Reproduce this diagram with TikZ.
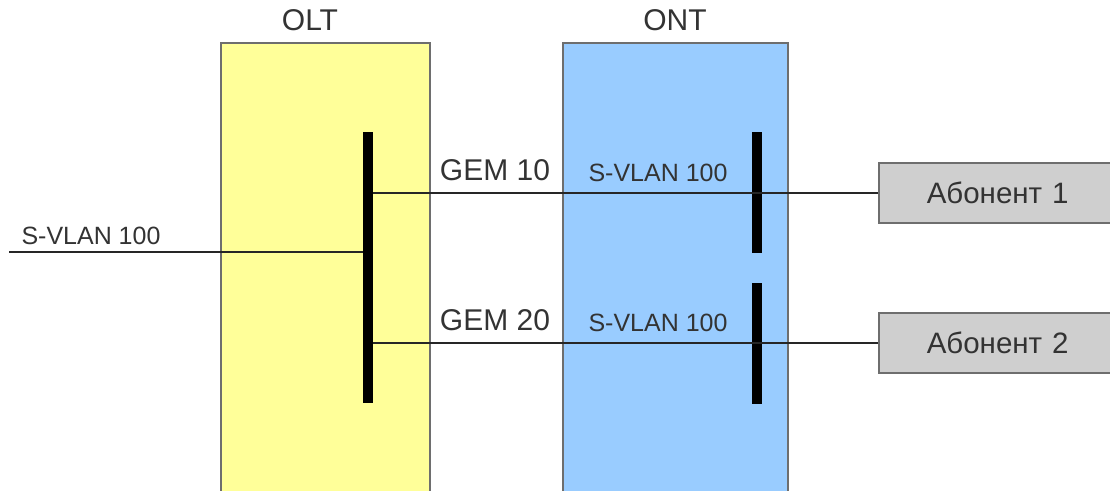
\documentclass[tikz,border=0pt]{standalone}
\usepackage{fontspec}
\setmainfont{Liberation Sans}
\definecolor{oltyellow}{HTML}{FFFF99}
\definecolor{ontblue}{HTML}{99CCFF}
\definecolor{abgray}{HTML}{CFCFCF}
\definecolor{txt}{HTML}{333333}
\definecolor{edge}{HTML}{6E6E6E}
\begin{document}
\begin{tikzpicture}[x=1pt,y=-1pt,
  dev/.style={draw=edge,line width=1.5pt},
  bar/.style={fill=black,draw=none},
  wire/.style={line width=2pt,draw=black!85},
  lbl/.style={text=txt,font=\fontsize{30}{34}\selectfont,inner sep=0pt},
  slbl/.style={text=txt,font=\fontsize{25}{29}\selectfont,inner sep=0pt},
  abon/.style={draw=edge,line width=1.5pt,fill=abgray,minimum width=240pt,minimum height=60pt,anchor=west,text=txt,font=\fontsize{29.5}{33}\selectfont,inner sep=0pt}]
\useasboundingbox (0,0) rectangle (1110,490);
% devices
\fill[oltyellow] (221,43) rectangle (430,495);
\draw[dev] (221,495) -- (221,43) -- (430,43) -- (430,495);
\fill[ontblue] (563,43) rectangle (788,495);
\draw[dev] (563,495) -- (563,43) -- (788,43) -- (788,495);
\node[lbl] (olt) at (310,20) {OLT};
\node[lbl] (ont) at (675,20) {ONT};
% bars
\node[bar,minimum width=10pt,minimum height=271pt,inner sep=0pt] (b0) at (368,267.5) {};
\node[bar,minimum width=10pt,minimum height=121pt,inner sep=0pt] (b1) at (757,192.5) {};
\node[bar,minimum width=10pt,minimum height=121pt,inner sep=0pt] (b2) at (757,343) {};
% subscribers
\node[abon,text width=240pt,align=left] (a1) at (878,193) {\hspace*{48pt}Абонент 1};
\node[abon,text width=240pt,align=left] (a2) at (878,343) {\hspace*{48pt}Абонент 2};
% wires
\coordinate (in) at (9,252);
\draw[wire] (in) -- (b0.west |- in);
\draw[wire] (b0.east |- a1.west) -- (a1.west);
\draw[wire] (b0.east |- a2.west) -- (a2.west);
% labels
\node[slbl] (sv0) at (91,236) {S-VLAN 100};
\node[lbl] (g10) at (495,170) {GEM 10};
\node[lbl] (g20) at (495,320) {GEM 20};
\node[slbl] (sv1) at (658,173) {S-VLAN 100};
\node[slbl] (sv2) at (658,323) {S-VLAN 100};
\end{tikzpicture}
\end{document}
